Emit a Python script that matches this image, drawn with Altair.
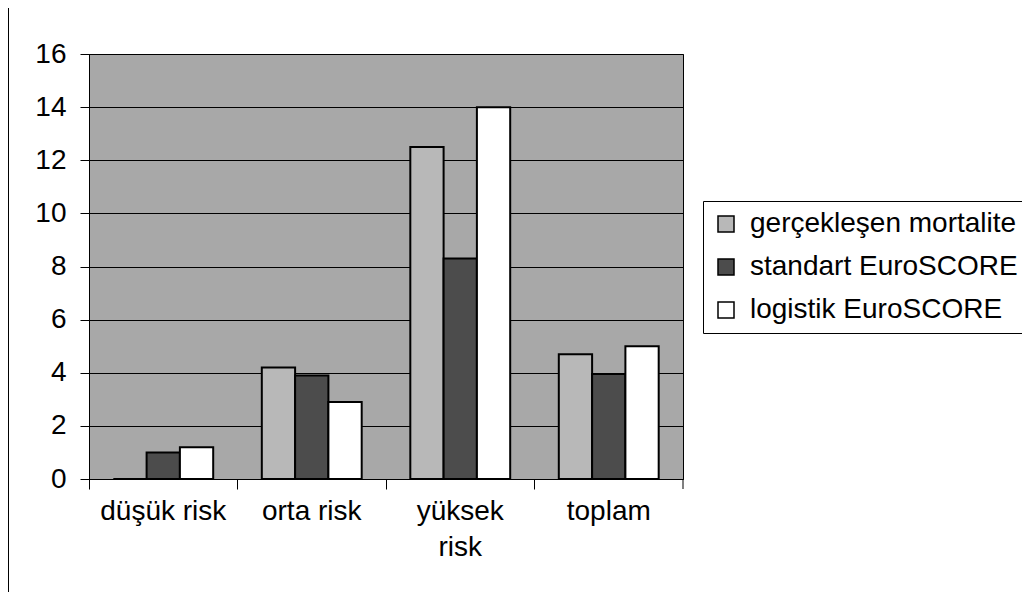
import altair as alt
import pandas as pd

categories = ["düşük risk", "orta risk", "yüksek risk", "toplam"]
series = ["gerçekleşen mortalite", "standart EuroSCORE", "logistik EuroSCORE"]
gerceklesen = [0.0, 4.2, 12.5, 4.7]
standart = [1.0, 3.9, 8.3, 3.95]
logistik = [1.2, 2.9, 14.0, 5.0]
y_ticks = [0, 2, 4, 6, 8, 10, 12, 14, 16]
series_colors = ["#b8b8b8", "#4c4c4c", "#ffffff"]

rows = []
for name, vals in zip(series, [gerceklesen, standart, logistik]):
    for c, v in zip(categories, vals):
        rows.append({"kategori": c, "seri": name, "deger": v})
df = pd.DataFrame(rows)

W, H = 594, 425
FONT = "Liberation Sans"

bars = alt.Chart(df).mark_bar(stroke="black", strokeWidth=2).encode(
    x=alt.X(
        "kategori:N",
        sort=categories,
        scale=alt.Scale(paddingInner=0, paddingOuter=0),
        axis=alt.Axis(
            title=None, labelAngle=0, bandPosition=0,
            tickSize=10, labelPadding=8, labelFontSize=28, labelColor="black",
            domainColor="black", tickColor="black", grid=False,
            labelExpr="length(datum.label) > 10 ? split(datum.label, ' ') : datum.label",
            labelLineHeight=36, labelBaseline="top",
        ),
    ),
    xOffset=alt.XOffset("seri:N", sort=series,
                        scale=alt.Scale(paddingOuter=0.73, paddingInner=0)),
    y=alt.Y(
        "deger:Q",
        scale=alt.Scale(domain=[0, 16]),
        axis=alt.Axis(
            title=None, values=y_ticks, grid=True, gridColor="black", gridWidth=1,
            tickSize=9, labelPadding=14, labelFontSize=28, labelColor="black",
            domainColor="black", tickColor="black",
        ),
    ),
    color=alt.Color(
        "seri:N", sort=series,
        scale=alt.Scale(domain=series, range=series_colors),
        legend=alt.Legend(
            title=None, orient="none", legendX=614, legendY=147,
            strokeColor="black", fillColor="white", padding=9,
            symbolType="square", symbolSize=256, symbolStrokeColor="black",
            symbolStrokeWidth=1.5, labelFontSize=28, labelColor="black",
            rowPadding=15, labelOffset=10, labelLimit=400,
        ),
    ),
)

one = pd.DataFrame({"a": [0]})
end_tick = alt.Chart(one).mark_rule(color="black", strokeWidth=1).encode(
    x=alt.value(W), y=alt.value(H), y2=alt.value(H + 10)
)
border = alt.Chart(one).mark_rule(color="black", strokeWidth=1).encode(
    x=alt.value(-80.5), y=alt.value(-46), y2=alt.value(H + 113)
)

chart = alt.layer(bars, end_tick, border).properties(
    width=W, height=H,
    autosize=alt.AutoSizeParams(type="none"),
    padding={"left": 81, "top": 46, "right": 339, "bottom": 113},
).configure(font=FONT).configure_view(fill="#a8a8a8", stroke="black", strokeWidth=1)

chart.save("out.html", embed_options={"renderer": "svg", "actions": False})
